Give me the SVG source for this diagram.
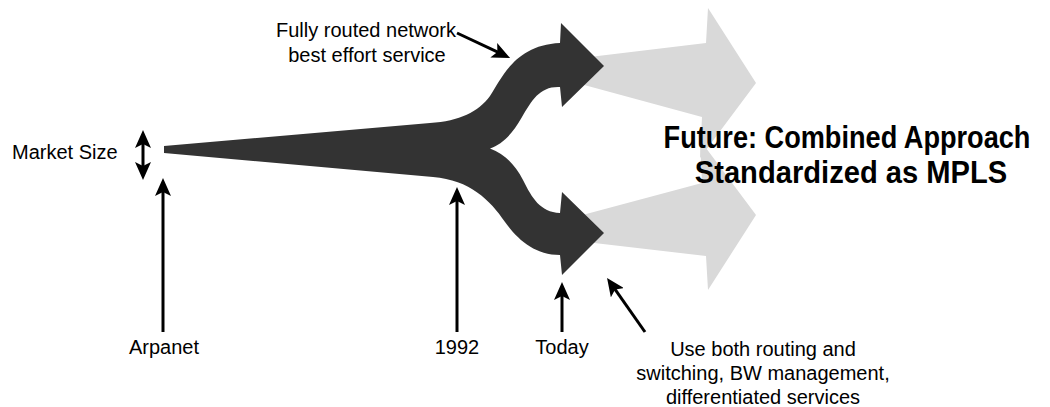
<svg xmlns="http://www.w3.org/2000/svg" width="1050" height="407" viewBox="0 0 1050 407">
<defs>
<style>
.lbl{font-family:"Liberation Sans",Arial,sans-serif;font-size:20px;fill:#000;text-anchor:middle}
.big{font-family:"Liberation Sans",Arial,sans-serif;font-size:31px;font-weight:bold;fill:#000;text-anchor:middle}
.con{stroke:#000;stroke-width:3;fill:none;marker-end:url(#ah)}
.dark{fill:#333333}
.light{fill:#d9d9d9}
</style>
<marker id="ah" viewBox="0 0 18 16" refX="8" refY="8" markerWidth="18" markerHeight="16" markerUnits="userSpaceOnUse" orient="auto-start-reverse">
<path d="M0,0 L18,8 L0,16 L4,8 Z" fill="#000"/>
</marker>
</defs>
<rect width="1050" height="407" fill="#fff"/>
<g id="future-arrows">
<path class="light" d="M575,58.8 L706,43 L708,8 L756,83 L700,158 L702,117 L575,82.6 Z"/>
<path class="light" d="M575,217 L702,183 L700,140 L756,215 L708,290 L706,256 L575,240.7 Z"/>
</g>
<g id="market-flow">
<path class="dark" d="M164,146 L430,123 C460,121 478,112 490,96 C502,78 515,45 560,43 L561,23 L604,66 L562,107 L560,87 C540,86 532,100 522,117 C512,135 502,144 490,148.5 C505,154 515,165 523,180 C532,198 540,212 560,213 L562,192 L604,233 L562,275 L560,255 C535,255 518,240 505,222 C490,200 470,180 433,177 L164,153 Z"/>
</g>
<g id="connectors">
<line class="con" x1="143" y1="155" x2="143" y2="140"/>
<line class="con" x1="143" y1="155" x2="143" y2="170"/>
<line class="con" x1="163" y1="332" x2="163" y2="188"/>
<line class="con" x1="457" y1="332" x2="457" y2="197"/>
<line class="con" x1="562" y1="332" x2="562" y2="292"/>
<line class="con" x1="457" y1="33" x2="501" y2="53.7"/>
<line class="con" x1="645" y1="332" x2="612.8" y2="286.2"/>
</g>
<g id="label-market-size"><text class="lbl" x="12" y="159" style="text-anchor:start">Market Size</text></g>
<g id="label-fully-routed">
<text class="lbl" x="366" y="37">Fully routed network</text>
<text class="lbl" x="367" y="62">best effort service</text>
</g>
<g id="label-future">
<text class="big" transform="translate(847,148) scale(0.876,1)">Future: Combined Approach</text>
<text class="big" transform="translate(851,183) scale(0.94,1)">Standardized as MPLS</text>
</g>
<g id="label-arpanet"><text class="lbl" x="164" y="354">Arpanet</text></g>
<g id="label-1992"><text class="lbl" x="457" y="354">1992</text></g>
<g id="label-today"><text class="lbl" x="562" y="354">Today</text></g>
<g id="label-combined">
<text class="lbl" x="763" y="356">Use both routing and</text>
<text class="lbl" x="763" y="380">switching, BW management,</text>
<text class="lbl" x="763" y="404">differentiated services</text>
</g>
</svg>
